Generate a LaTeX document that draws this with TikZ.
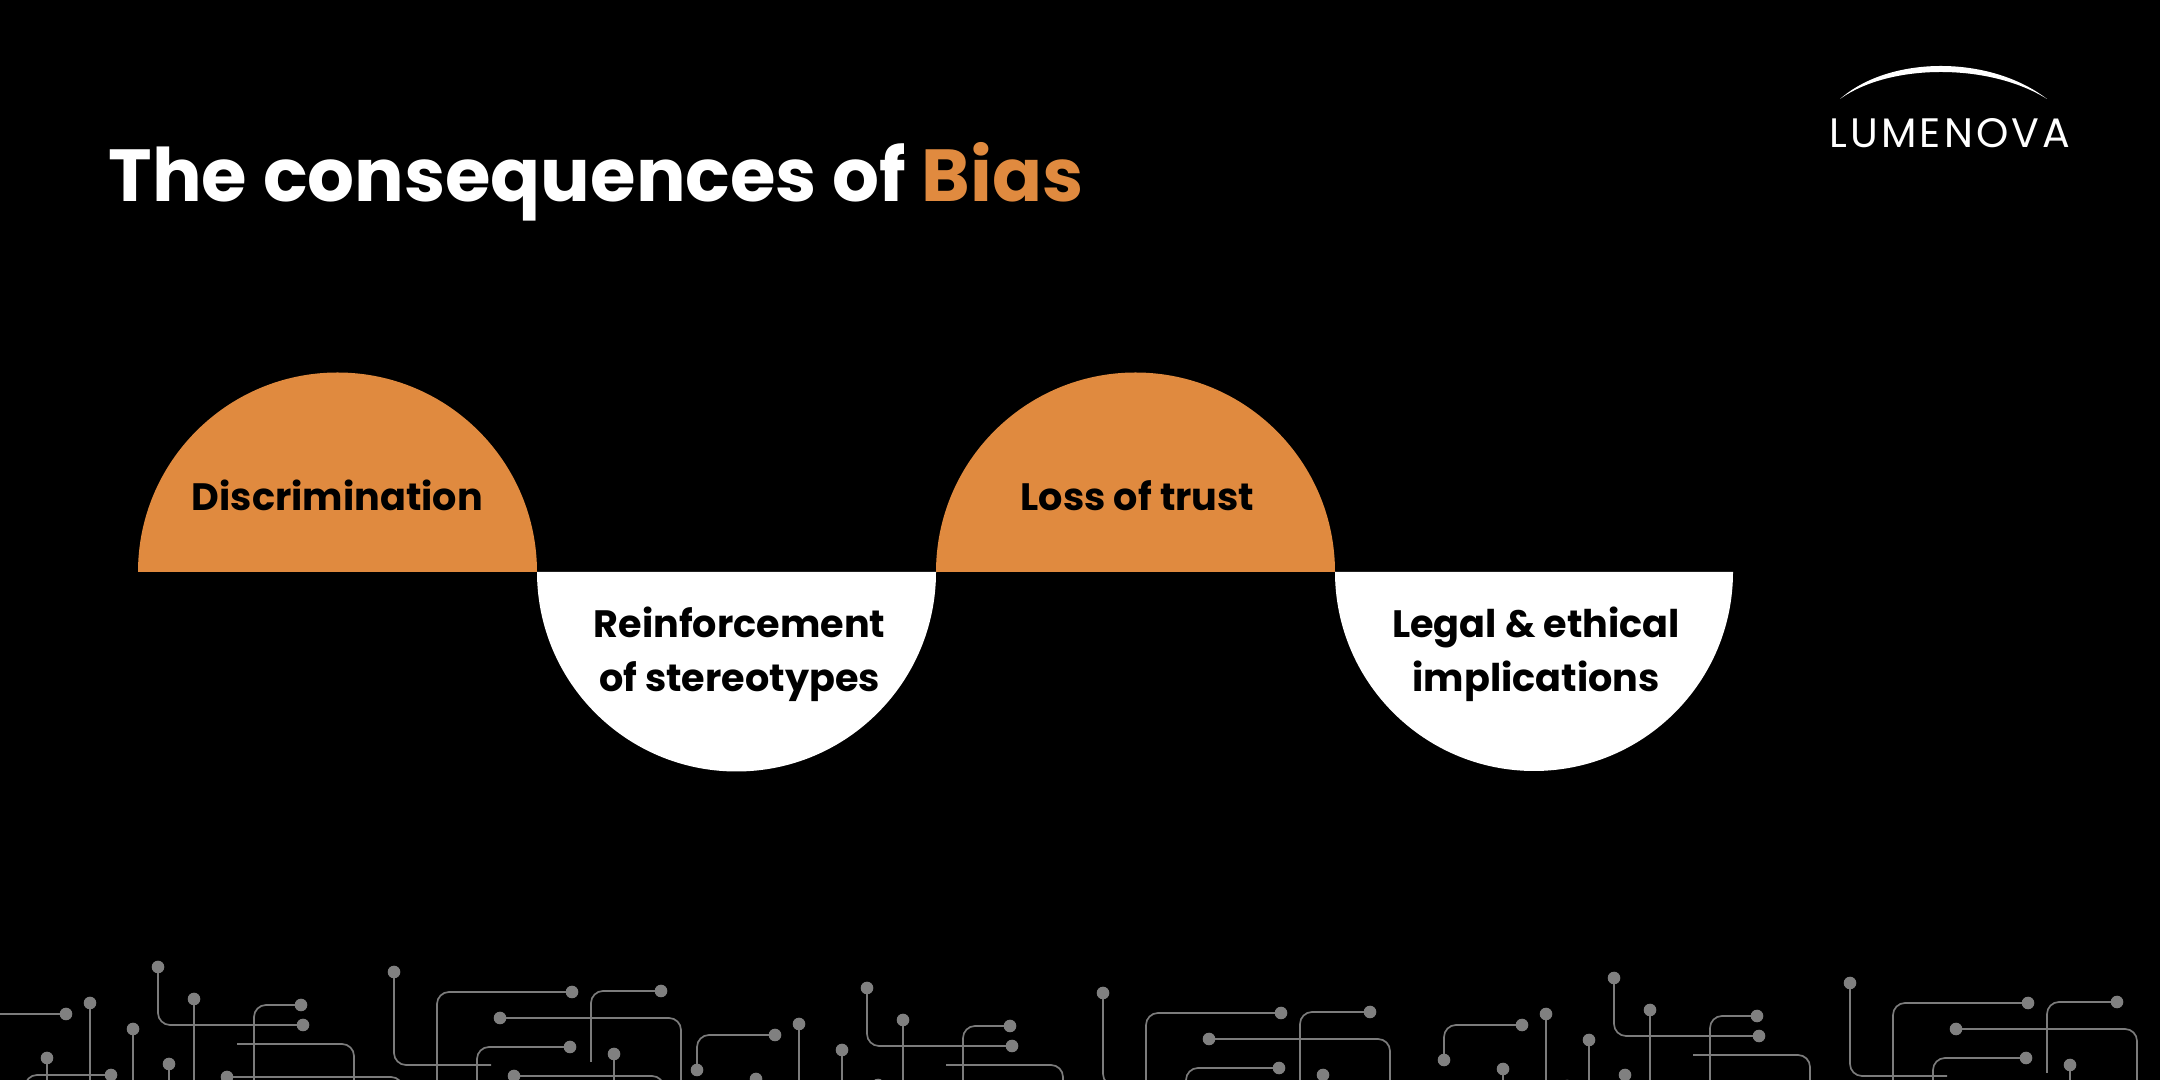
\documentclass[tikz,border=0pt]{standalone}
\usepackage{tikz}
\usepackage{xcolor}
\usepackage{fontspec}
\setmainfont{Poppins}[BoldFont=Poppins Bold]
\newfontfamily\logofont{Poppins}[LetterSpace=7.5]
\definecolor{biasorange}{HTML}{E08A3F}
\definecolor{traceline}{HTML}{7C7C7C}
\definecolor{tracedot}{HTML}{808080}
\begin{document}
\begin{tikzpicture}[x=0.01cm,y=0.01cm]
\tikzstyle{every node}+=[inner sep=0pt]
\tikzstyle{titletext}=[anchor=base west,font=\bfseries\fontsize{20.97}{25}\selectfont]
\tikzstyle{lobetext}=[anchor=base,text=black,font=\bfseries\fontsize{10.85}{13}\selectfont]
\tikzstyle{trace}=[draw=traceline,line width=0.48pt,rounded corners=1.2mm]
\clip (0,0) rectangle (2160,-1080);
\fill [black] (0,0) rectangle (2160,-1080);
\node [titletext,text=white] (title) at (108,-202) {The consequences of \textcolor{biasorange}{Bias}};
\fill [white] (1840,-99) .. controls (1890,-55) and (1990,-55) .. (2047,-99) .. controls (1990,-63) and (1890,-63) .. (1840,-99);
\node [anchor=base,text=white,font=\logofont\fontsize{11.7}{14}\selectfont] (logo) at (1950,-148) {LUMENOVA};
\fill [biasorange] (138,-572) arc (180:0:199.5) -- cycle;
\fill [white] (537,-572) arc (180:360:199.5) -- cycle;
\fill [biasorange] (936,-572) arc (180:0:199.5) -- cycle;
\fill [white] (1335,-572) arc (180:360:199) -- cycle;
\node [lobetext] (discrimination) at (337.5,-511) {Discrimination};
\node [lobetext] (reinforcement) at (739.5,-638) {Reinforcement};
\node [lobetext] (stereotypes) at (739.5,-692) {of stereotypes};
\node [lobetext] (trust) at (1137.5,-511) {Loss of trust};
\node [lobetext] (legal) at (1536,-638) {Legal \& ethical};
\node [lobetext] (implications) at (1536,-692) {implications};
\foreach \tx/\ty in {0/0,709/21,1456/11} {
\begin{scope}[shift={(\tx,-\ty)}]
\draw [trace] (-12,-1049) |- (66,-1014);
\draw [trace] (90,-1003) -- (90,-1110);
\draw [trace] (133,-1029) -- (133,-1110);
\draw [trace] (47,-1058) -- (47,-1110);
\draw [trace] (111,-1075) -| (25,-1110);
\draw [trace] (158,-967) |- (303,-1025);
\draw [trace] (194,-999) -- (194,-1110);
\draw [trace] (301,-1005) -| (254,-1110);
\draw [trace] (237,-1044) -| (354,-1110);
\draw [trace] (169,-1064) -- (169,-1110);
\draw [trace] (227,-1077) -| (403,-1110);
\draw [trace] (394,-972) |- (491,-1065);
\draw [trace] (572,-992) -| (437,-1110);
\draw [trace] (661,-991) -| (591,-1062);
\draw [trace] (500,-1018) -| (681,-1110);
\draw [trace] (570,-1047) -| (477,-1110);
\draw [trace] (614,-1054) -- (614,-1110);
\draw [trace] (514,-1076) -| (664,-1110);
\foreach \dx/\dy in {-12/1049,66/1014,90/1003,133/1029,47/1058,111/1075,158/967,303/1025,194/999,301/1005,169/1064,227/1077,394/972,572/992,661/991,500/1018,570/1047,614/1054,514/1076}
\fill [tracedot] (\dx,-\dy) circle (6.3);
\end{scope}
}
\end{tikzpicture}
\end{document}
